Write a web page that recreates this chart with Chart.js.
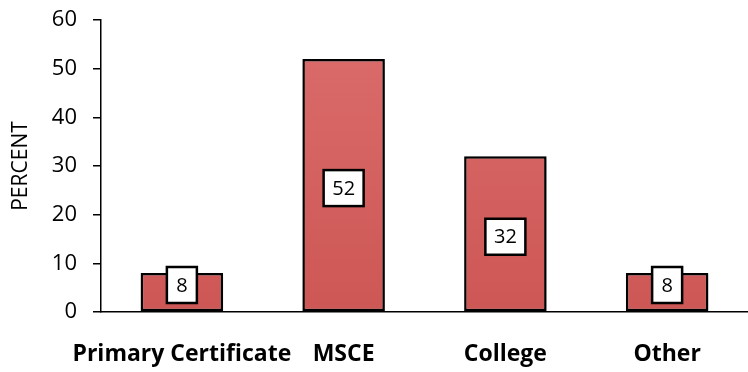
<!DOCTYPE html>
<html>
<head>
<meta charset="utf-8">
<script src="https://cdn.jsdelivr.net/npm/chart.js@4/dist/chart.umd.min.js"></script>
<style>
  html, body { margin: 0; padding: 0; background: #fff; }
  #wrap { width: 748px; height: 372px; }
</style>
</head>
<body>
<div id="wrap"><canvas id="barChart"></canvas></div>
<script>
'use strict';

const categories = ['Primary Certificate', 'MSCE', 'College', 'Other'];
const percents = [8, 52, 32, 8];
const yTicks = [0, 10, 20, 30, 40, 50, 60];

const FONT = "'Open Sans', Lato, sans-serif";

// white boxed value labels drawn in the middle of each bar
const boxLabels = {
  id: 'boxLabels',
  afterDatasetsDraw(chart) {
    const ctx = chart.ctx;
    const meta = chart.getDatasetMeta(0);
    const base = chart.scales.y.bottom;
    ctx.save();
    ctx.font = '20px ' + FONT;
    ctx.textAlign = 'center';
    ctx.textBaseline = 'middle';
    meta.data.forEach(function(bar, i) {
      const txt = String(percents[i]);
      const w = txt.length > 1 ? 40 : 30;
      const h = 36;
      let cy = (bar.y + bar.base) / 2 + 3;
      if (cy + h / 2 > base - 9) cy = base - 9 - h / 2;
      ctx.fillStyle = '#fff';
      ctx.fillRect(bar.x - w / 2, cy - h / 2, w, h);
      ctx.lineWidth = 2.5;
      ctx.strokeStyle = '#000';
      ctx.strokeRect(bar.x - w / 2, cy - h / 2, w, h);
      ctx.fillStyle = '#000';
      ctx.fillText(txt, bar.x, cy + 1);
    });
    ctx.restore();
  }
};

// soft drop shadow under the bars
const barShadow = {
  id: 'barShadow',
  beforeDatasetsDraw(chart) {
    const ctx = chart.ctx;
    ctx.save();
    ctx.shadowColor = 'rgba(0,0,0,0.3)';
    ctx.shadowBlur = 5;
    ctx.shadowOffsetX = 2;
    ctx.shadowOffsetY = 2;
  },
  afterDatasetsDraw(chart) {
    chart.ctx.restore();
  }
};

function barFill(context) {
  const chart = context.chart;
  const area = chart.chartArea;
  if (!area) return '#d25f5e';
  const g = chart.ctx.createLinearGradient(0, area.top, 0, area.bottom);
  g.addColorStop(0, '#db6d6c');
  g.addColorStop(1, '#cd5755');
  return g;
}

const ctx = document.getElementById('barChart');

let barChart = new Chart(ctx, {
  type: 'bar',
  data: {
    labels: categories,
    datasets: [{
      data: percents,
      backgroundColor: barFill,
      borderColor: '#000',
      borderWidth: 2.5,
      borderSkipped: false,
      barPercentage: 0.51,
      categoryPercentage: 1
    }]
  },
  options: {
    responsive: true,
    maintainAspectRatio: false,
    animation: false,
    layout: { padding: { top: 20, right: 0, left: 0, bottom: 0 } },
    plugins: {
      legend: { display: false },
      tooltip: { enabled: false }
    },
    scales: {
      x: {
        grid: { display: false, drawTicks: false },
        border: { color: '#000', width: 1.5 },
        ticks: {
          color: '#000',
          padding: 29,
          maxRotation: 0,
          autoSkip: false,
          font: { family: FONT, size: 23, weight: 'bold' }
        },
        afterFit(scale) {
          scale.height = 60;
          scale.paddingLeft = 0;
          scale.paddingRight = 0;
        }
      },
      y: {
        min: 0,
        max: 60,
        afterBuildTicks(scale) {
          scale.ticks = yTicks.map(function(v) { return { value: v }; });
        },
        grid: {
          drawOnChartArea: false,
          drawTicks: true,
          tickLength: 8,
          color: '#000',
          lineWidth: 1.5
        },
        border: { color: '#000', width: 1.5 },
        ticks: {
          color: '#000',
          padding: 16,
          font: { family: FONT, size: 22 }
        },
        title: {
          display: true,
          text: 'PERCENT',
          color: '#000',
          padding: { top: 8, bottom: 0 },
          font: { family: FONT, size: 21 }
        },
        afterFit(scale) {
          scale.width = 101;
          scale.paddingTop = 0;
          scale.paddingBottom = 0;
        }
      }
    }
  },
  plugins: [barShadow, boxLabels]
});
</script>
</body>
</html>
